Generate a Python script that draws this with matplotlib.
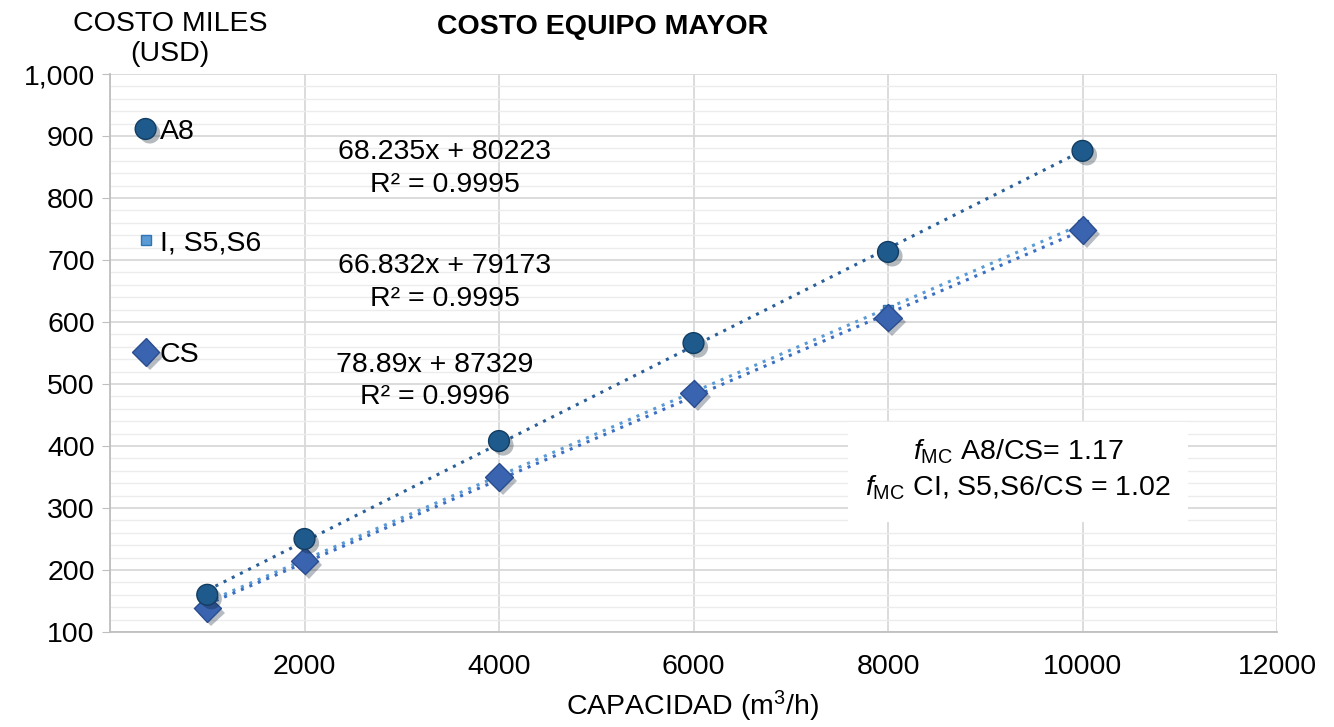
import numpy as np
import matplotlib.pyplot as plt
import matplotlib.patheffects as pe
from matplotlib.ticker import MultipleLocator, FuncFormatter

plt.rcParams['font.family'] = ['Liberation Sans', 'DejaVu Sans']
plt.rcParams['mathtext.fontset'] = 'custom'
plt.rcParams['mathtext.rm'] = 'Liberation Sans'
plt.rcParams['mathtext.it'] = 'Liberation Sans:italic'

capacidad = [1000, 2000, 4000, 6000, 8000, 10000]
a8 = [160, 250, 408, 566, 713, 876]
is5s6 = [143, 220, 355, 490, 620, 757]
cs = [138, 215, 350, 485, 607, 748]

eq_a8 = ["68.235x + 80223", "R² = 0.9995"]
eq_is = ["66.832x + 79173", "R² = 0.9995"]
eq_cs = ["78.89x + 87329", "R² = 0.9996"]

FS = 20.5

fig = plt.figure(figsize=(13.34, 7.27), dpi=100)
ax = fig.add_axes([110/1334, 1-632/727, 1167/1334, 558/727])

x = np.array(capacidad, dtype=float)
shadow = [pe.SimplePatchShadow(offset=(3, -3), alpha=0.3), pe.Normal()]

# trendlines
for ys, col in [(a8, '#2a5f98'), (is5s6, '#5b9bd5'), (cs, '#3b6fc4')]:
    p = np.polyfit(x, ys, 1)
    xx = np.array([1000, 10000])
    ax.plot(xx, np.polyval(p, xx), ls=(0, (1, 2)), lw=2.2, color=col, zorder=2)

ax.plot(x, is5s6, ls='none', marker='s', ms=7, mfc='#5b9bd5', mec='#2e75b6',
        label='I, S5,S6', zorder=3)
ax.plot(x, cs, ls='none', marker='D', ms=14, mfc='#3a64b0', mec='#2a4d8f',
        label='CS', zorder=4, path_effects=shadow)
ax.plot(x, a8, ls='none', marker='o', ms=15, mfc='#1f5a8c', mec='#123d63',
        label='A8', zorder=5, path_effects=shadow)

ax.set_xlim(0, 12000)
ax.set_ylim(100, 1000)
ax.xaxis.set_major_locator(MultipleLocator(2000))
ax.yaxis.set_major_locator(MultipleLocator(100))
ax.yaxis.set_minor_locator(MultipleLocator(20))
ax.xaxis.set_major_formatter(FuncFormatter(lambda v, _: '' if v == 0 else f'{int(v)}'))
ax.yaxis.set_major_formatter(FuncFormatter(lambda v, _: f'{int(v):,}'))
ax.grid(which='major', axis='both', color='#d9d9d9', lw=1.3)
ax.grid(which='minor', axis='y', color='#ececec', lw=1.0)
ax.set_axisbelow(True)
for s in ['top', 'right']:
    ax.spines[s].set_visible(False)
for s in ['left', 'bottom']:
    ax.spines[s].set_color('#bfbfbf')
    ax.spines[s].set_linewidth(1.3)
ax.tick_params(axis='y', which='major', length=6, color='#bfbfbf', labelsize=FS, pad=5)
ax.tick_params(axis='y', which='minor', length=0)
ax.tick_params(axis='x', length=0, labelsize=FS, pad=16)

h, l = ax.get_legend_handles_labels()
order = [2, 0, 1]
ax.legend([h[i] for i in order], [l[i] for i in order], loc='upper left',
          bbox_to_anchor=(0.011, 0.945), frameon=False, fontsize=FS,
          labelspacing=3.0, handlelength=0.6, handletextpad=0.2, borderpad=0.0)

# equations
for (lines, xc, y1, y2) in [(eq_a8, 445, 152, 185), (eq_is, 445, 266, 299), (eq_cs, 435, 365, 397)]:
    fig.text(xc/1334, 1-y1/727, lines[0], ha='center', va='center', fontsize=FS)
    fig.text(xc/1334, 1-y2/727, lines[1], ha='center', va='center', fontsize=FS)

# factor box
box = plt.Rectangle((848/1334, 1-522/727), 340/1334, 100/727, transform=fig.transFigure,
                    facecolor='white', edgecolor='none', zorder=6)
fig.patches.append(box)
fig.text(1018/1334, 1-452/727, r'$\mathit{f}_{\mathrm{MC}}$ A8/CS= 1.17', ha='center',
         va='center', fontsize=FS, zorder=7)
fig.text(1018/1334, 1-488/727, r'$\mathit{f}_{\mathrm{MC}}$ CI, S5,S6/CS = 1.02', ha='center',
         va='center', fontsize=FS, zorder=7)

fig.text(603/1334, 1-27/727, 'COSTO EQUIPO MAYOR', ha='center', va='center',
         fontsize=FS, fontweight='bold')
fig.text(170/1334, 1-39/727, 'COSTO MILES\n(USD)', ha='center', va='center',
         fontsize=FS, linespacing=1.2)
fig.text(693/1334, 1-706/727, r'CAPACIDAD (m$^3$/h)', ha='center', va='center', fontsize=FS)

fig.savefig('out.png', dpi=100)
